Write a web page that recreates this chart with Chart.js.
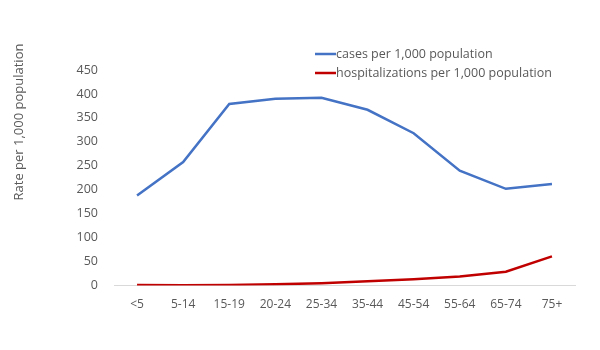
<!DOCTYPE html>
<html>
<head>
<meta charset="utf-8">
<script src="https://cdn.jsdelivr.net/npm/chart.js@4.4.1/dist/chart.umd.min.js"></script>
<style>
  html, body { margin: 0; padding: 0; background: #fff; }
  #wrap { width: 600px; height: 350px; }
</style>
</head>
<body>
<div id="wrap"><canvas id="chart" width="600" height="350"></canvas></div>
<script>
  const ageGroups = ["<5", "5-14", "15-19", "20-24", "25-34", "35-44", "45-54", "55-64", "65-74", "75+"];
  const casesPer1000 = [188, 258, 379, 390, 392, 367, 318, 240, 202, 212];
  const hospPer1000 = [1.5, 0.5, 1.5, 3, 5, 9, 13, 19, 29, 61];
  const yTicks = { min: 0, max: 450, step: 50 };

  const FONT = "'Open Sans', 'Liberation Sans', sans-serif";
  const GREY = "#595959";

  // y title + stacked legend, drawn by hand like the Excel original
  const extras = {
    id: "extras",
    afterDraw(chart) {
      const ctx = chart.ctx;
      ctx.save();
      ctx.fillStyle = GREY;
      ctx.font = "13px " + FONT;
      ctx.translate(19, 122);
      ctx.rotate(-Math.PI / 2);
      ctx.textAlign = "center";
      ctx.textBaseline = "middle";
      ctx.fillText("Rate per 1,000 population", 0, 0);
      ctx.restore();

      ctx.save();
      ctx.font = "12.5px " + FONT;
      ctx.textBaseline = "middle";
      chart.data.datasets.forEach((ds, i) => {
        const y = 54 + i * 19;
        ctx.strokeStyle = ds.borderColor;
        ctx.lineWidth = 2.5;
        ctx.beginPath();
        ctx.moveTo(315, y);
        ctx.lineTo(336, y);
        ctx.stroke();
        ctx.fillStyle = GREY;
        ctx.fillText(ds.label, 336, y);
      });
      ctx.restore();
    },
  };

  new Chart(document.getElementById("chart"), {
    type: "line",
    data: {
      labels: ageGroups,
      datasets: [
        {
          label: "cases per 1,000 population",
          data: casesPer1000,
          borderColor: "#4472C4",
          borderWidth: 2.5,
          pointRadius: 0,
          tension: 0,
          fill: false,
        },
        {
          label: "hospitalizations per 1,000 population",
          data: hospPer1000,
          borderColor: "#C00000",
          borderWidth: 2.5,
          pointRadius: 0,
          tension: 0,
          fill: false,
        },
      ],
    },
    options: {
      responsive: false,
      animation: false,
      layout: { padding: { left: 0, right: 25, top: 70, bottom: 34 } },
      plugins: { legend: { display: false }, tooltip: { enabled: false } },
      scales: {
        x: {
          offset: true,
          grid: { display: false },
          border: { color: "#d9d9d9", width: 1 },
          ticks: { color: GREY, font: { family: FONT, size: 12 }, padding: 4, maxRotation: 0 },
        },
        y: {
          min: yTicks.min,
          max: yTicks.max,
          grid: { display: false },
          border: { display: false },
          ticks: { stepSize: yTicks.step, color: GREY, font: { family: FONT, size: 12.5 }, padding: 8 },
          afterFit(scale) { scale.width = 114; },
        },
      },
    },
    plugins: [extras],
  });
</script>
</body>
</html>
